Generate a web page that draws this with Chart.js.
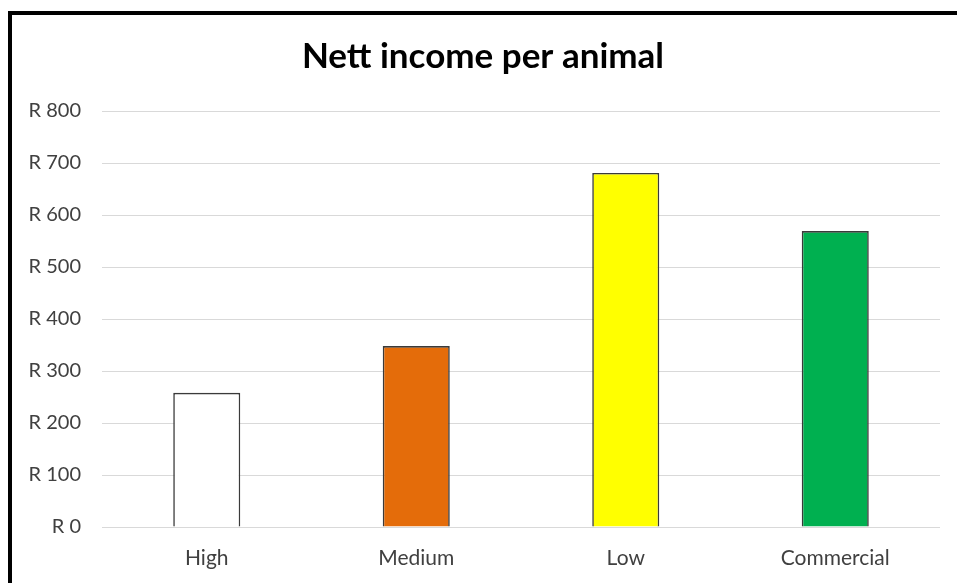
<!DOCTYPE html>
<html>
<head>
<meta charset="utf-8">
<script src="https://cdn.jsdelivr.net/npm/chart.js@4"></script>
<style>
  html, body { margin: 0; padding: 0; background: #fff; }
  #wrap { width: 957px; height: 583px; position: relative; }
</style>
</head>
<body>
<div id="wrap"><canvas id="c" width="957" height="583"></canvas></div>
<script>
// chart data
const categories = ['High', 'Medium', 'Low', 'Commercial'];
const incomeValues = [258, 348, 681, 569];
const barColours = ['#ffffff', '#e46c0a', '#ffff00', '#00b050'];
const yTicks = [0, 100, 200, 300, 400, 500, 600, 700, 800];

const FONT = 'Lato';

// white page plus the thick black frame round the chart
const FramePlugin = {
    id: 'frame',
    beforeDraw(chart) {
        const ctx = chart.ctx;
        ctx.save();
        ctx.fillStyle = '#fff';
        ctx.fillRect(0, 0, chart.width, chart.height);
        ctx.restore();
    },
    afterDraw(chart) {
        const ctx = chart.ctx;
        ctx.save();
        ctx.fillStyle = '#000';
        ctx.fillRect(8, 11, chart.width - 8, 4);
        ctx.fillRect(8, 11, 4, chart.height - 11);
        ctx.restore();
    }
};

new Chart(document.getElementById('c'), {
    type: 'bar',
    data: {
        labels: categories,
        datasets: [{
            data: incomeValues,
            backgroundColor: barColours,
            borderColor: '#3a3a3a',
            borderWidth: 1.6,
            barPercentage: 0.32,
            categoryPercentage: 1
        }]
    },
    options: {
        responsive: false,
        animation: false,
        layout: { padding: { left: 26, right: 17, top: 0, bottom: 14 } },
        plugins: {
            legend: { display: false },
            tooltip: { enabled: false },
            title: {
                display: true,
                text: 'Nett income per animal',
                color: '#000',
                font: { family: FONT, size: 35, weight: 'bold' },
                padding: { top: 36, bottom: 33 }
            }
        },
        scales: {
            x: {
                afterFit(scale) { scale.height = 42; },
                grid: { display: false, drawTicks: false },
                border: { display: false },
                ticks: { color: '#404040', padding: 19, font: { family: FONT, size: 21 } }
            },
            y: {
                min: 0,
                max: 800,
                afterFit(scale) { scale.width = 76; },
                afterBuildTicks(scale) { scale.ticks = yTicks.map(v => ({ value: v })); },
                grid: { color: '#d9d9d9', lineWidth: 1, drawTicks: false },
                border: { display: false },
                ticks: {
                    color: '#404040',
                    padding: 21,
                    font: { family: FONT, size: 20 },
                    callback: v => 'R ' + v
                }
            }
        }
    },
    plugins: [FramePlugin]
});
</script>
</body>
</html>
